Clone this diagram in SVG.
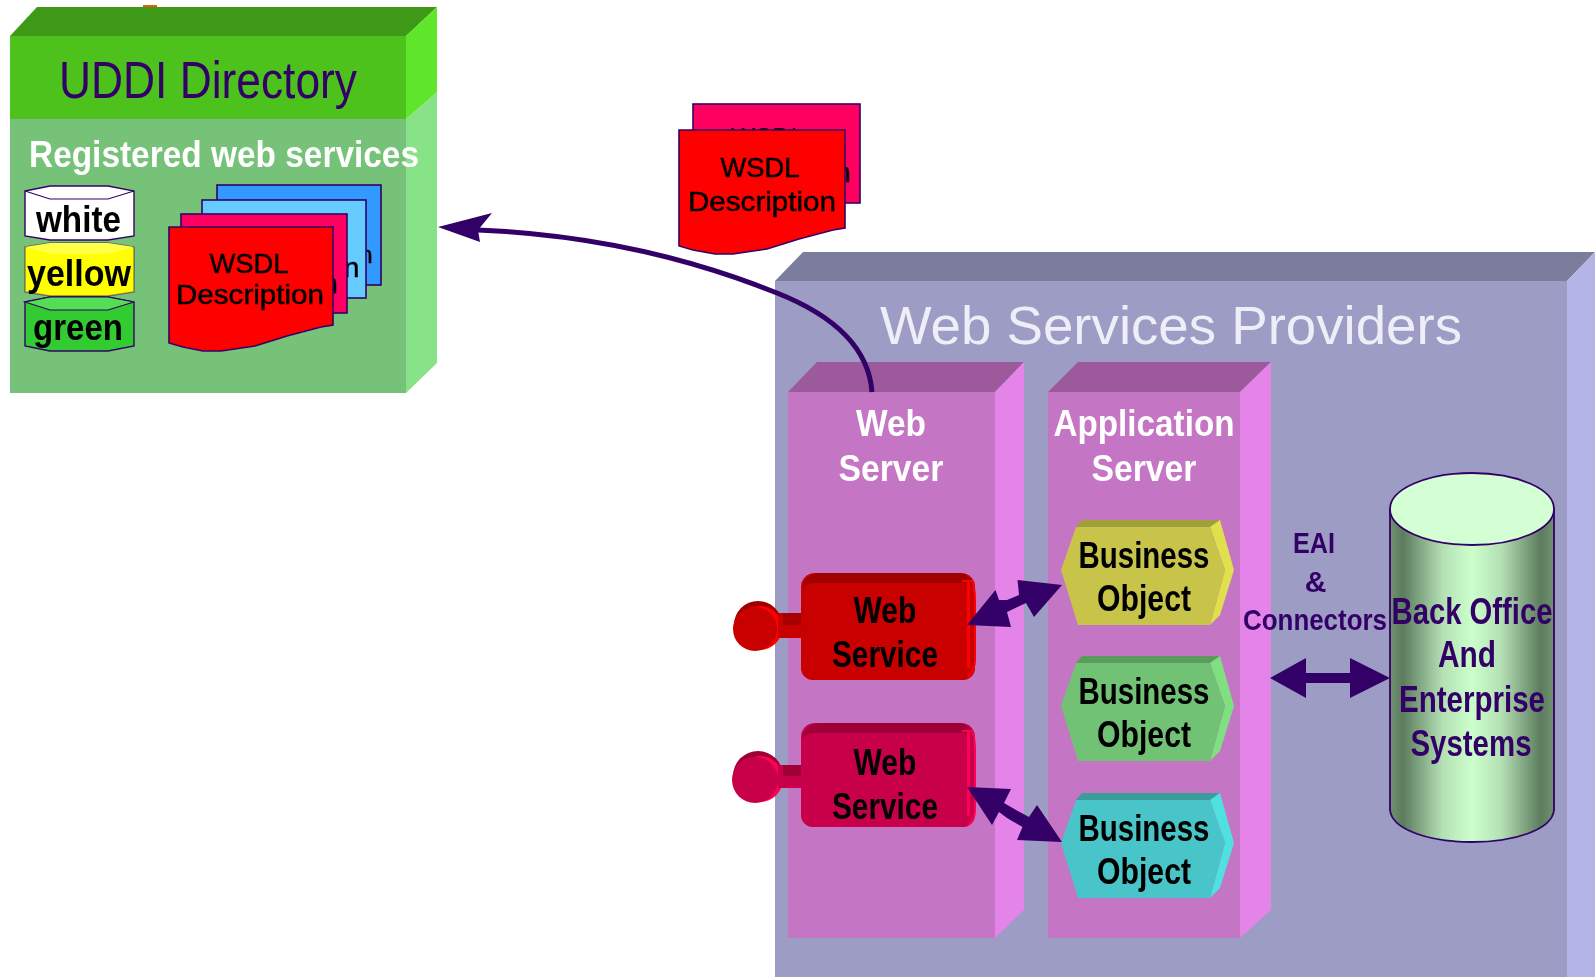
<svg xmlns="http://www.w3.org/2000/svg" width="1595" height="977" viewBox="0 0 1595 977">
<style>
text{font-family:"Liberation Sans",Arial,sans-serif;text-anchor:middle}
.b{font-weight:bold}
.k{fill:#000}
.d{fill:#000;stroke:#000;stroke-width:.5}
.p{fill:#330066}
.w{fill:#fff}
.doc{stroke:#330066;stroke-width:1.6}
.sc{stroke:#330066;stroke-width:1.4}
.conn{fill:#330066;stroke:none}
</style>
<defs>
<filter id="soft" filterUnits="userSpaceOnUse" x="0" y="0" width="1595" height="977"><feGaussianBlur stdDeviation="0.75"/></filter>
<linearGradient id="cyl" x1="0" x2="1" y1="0" y2="0">
<stop offset="0" stop-color="#6f9270"/><stop offset="0.08" stop-color="#5c7c5e"/><stop offset="0.32" stop-color="#b4e0b4"/><stop offset="0.5" stop-color="#ccffcc"/><stop offset="0.68" stop-color="#b4e0b4"/><stop offset="0.92" stop-color="#5c7c5e"/><stop offset="1" stop-color="#6f9270"/>
</linearGradient>
<path id="docshape" d="M0,0H164V98L152,100L118,109L86,119L52,124H34L14,120L0,116Z"/>
<path id="docshape2" d="M0,0H166V98L154,100L120,109L88,119L54,124H36L14,120L0,116Z"/>
</defs>
<g filter="url(#soft)">
<rect x="143" y="5" width="14" height="3" fill="#e06010"/>
<g id="uddi-directory">
<polygon points="10,36 37,7 437,7 406,36" fill="#3d9915"/>
<polygon points="406,119 437,92 437,363 406,393" fill="#88e288"/>
<polygon points="406,36 437,7 437,92 406,119" fill="#5ee52a"/>
<rect x="10" y="119" width="396" height="274" fill="#75c278"/>
<rect x="10" y="36" width="396" height="83" fill="#4dc21f"/>
<text x="208" y="98" font-size="52" class="p" textLength="298" lengthAdjust="spacingAndGlyphs">UDDI Directory</text>
<text x="224" y="167" font-size="37" class="b w" textLength="390" lengthAdjust="spacingAndGlyphs">Registered web services</text>
</g>
<g id="cat-white">
<path class="sc" fill="#fff" d="M25,191L50,186H108L134,191V236L108,240H50L25,236Z"/>
<path d="M25,191L50,199H108L134,191" fill="none" stroke="#330066" stroke-width="1.2"/>
<text x="78.500" y="232" font-size="36" class="b k" textLength="85" lengthAdjust="spacingAndGlyphs">white</text>
</g>
<g id="cat-yellow">
<path class="sc" fill="#ffff00" d="M25,247L50,243H108L134,247V292L108,296H50L25,292Z" stroke-opacity=".5"/>
<path d="M25,247L50,254H108L134,247L108,243H50Z" fill="#ffff44"/>
<text x="79" y="286" font-size="36" class="b k" textLength="104" lengthAdjust="spacingAndGlyphs">yellow</text>
</g>
<g id="cat-green">
<path class="sc" fill="#33cc33" d="M25,302L50,297H108L134,302V346L108,351H50L25,346Z"/>
<path d="M25,302L50,310H108L134,302L108,297H50Z" fill="#55dd55" stroke="#330066" stroke-width="1.2"/>
<text x="78" y="340" font-size="36" class="b k" textLength="90" lengthAdjust="spacingAndGlyphs">green</text>
</g>
<g id="registry-docs">
<rect class="doc" x="217" y="185" width="164" height="100" fill="#3399ff"/>
<text x="366" y="263" font-size="24" class="d">n</text>
<rect class="doc" x="202" y="200" width="164" height="98" fill="#66ccff"/>
<text x="351.500" y="277" font-size="28" class="d">n</text>
<rect class="doc" x="181" y="214" width="166" height="99" fill="#ff0060"/>
<text x="330" y="293" font-size="28" class="d">n</text>
<use href="#docshape" class="doc" x="169" y="227" fill="#ff0000"/>
<text x="249" y="273" font-size="28" class="d" textLength="79" lengthAdjust="spacingAndGlyphs">WSDL</text>
<text x="250" y="304" font-size="28" class="d" textLength="148" lengthAdjust="spacingAndGlyphs">Description</text>
</g>
<g id="loose-doc">
<rect class="doc" x="693" y="104" width="167" height="99" fill="#ff0060"/>
<text x="768" y="147" font-size="28" class="k" textLength="74" lengthAdjust="spacingAndGlyphs">WSDL</text>
<text x="843" y="182" font-size="28" class="d">n</text>
<use href="#docshape2" class="doc" x="679" y="130" fill="#ff0000"/>
<text x="760" y="177" font-size="28" class="d" textLength="79" lengthAdjust="spacingAndGlyphs">WSDL</text>
<text x="762" y="211" font-size="28" class="d" textLength="148" lengthAdjust="spacingAndGlyphs">Description</text>
</g>
<g id="web-services-providers">
<polygon points="775,281 803,252 1595,252 1567,281" fill="#7c7c9c"/>
<rect x="775" y="281" width="792" height="696" fill="#9c9cc4"/>
<polygon points="1567,281 1595,252 1595,977 1567,977" fill="#b4b4e6"/>
<text x="1171" y="344" font-size="53" fill="#eeeef8" textLength="582" lengthAdjust="spacingAndGlyphs">Web Services Providers</text>
</g>
<g id="web-server">
<polygon points="788,392 817,362 1024,362 995,392" fill="#9c5a9c"/>
<polygon points="995,392 1024,362 1024,910 995,938" fill="#e484e8"/>
<rect x="788" y="392" width="207" height="546" fill="#c474c4"/>
<text x="891" y="436" font-size="37" class="b w" textLength="70" lengthAdjust="spacingAndGlyphs">Web</text>
<text x="891" y="481" font-size="37" class="b w" textLength="105" lengthAdjust="spacingAndGlyphs">Server</text>
</g>
<g id="application-server">
<polygon points="1048,392 1078,362 1271,362 1240,392" fill="#9c5a9c"/>
<polygon points="1240,392 1271,362 1271,910 1240,938" fill="#e484e8"/>
<rect x="1048" y="392" width="192" height="546" fill="#c474c4"/>
<text x="1144" y="436" font-size="37" class="b w" textLength="181" lengthAdjust="spacingAndGlyphs">Application</text>
<text x="1144" y="481" font-size="37" class="b w" textLength="105" lengthAdjust="spacingAndGlyphs">Server</text>
</g>
<g id="web-service-1">
<circle cx="758" cy="625" r="24" fill="#a00000"/>
<circle cx="760" cy="628" r="22" fill="#ff0000"/>
<circle cx="755" cy="629" r="22" fill="#c80000"/>
<rect x="778" y="613" width="24" height="25" fill="#c80000"/>
<rect x="783" y="613" width="19" height="12" fill="#a80000"/>
<rect x="801" y="573" width="174" height="107" rx="14" fill="#c80000"/>
<path d="M803,588C803,578 812,573 820,573H958C966,573 972,578 974,588Z" fill="#a00000"/>
<rect x="801" y="583" width="174" height="97" rx="12" fill="#c80000"/>
<rect x="967" y="582" width="3" height="86" fill="#ff0000"/>
<path d="M962,581L972,581Q975,588 975,600V660Q975,670 968,677" fill="none" stroke="#ff0000" stroke-width="2"/>
<text x="885" y="623" font-size="36" class="b k" textLength="63" lengthAdjust="spacingAndGlyphs">Web</text>
<text x="885" y="667" font-size="36" class="b k" textLength="106" lengthAdjust="spacingAndGlyphs">Service</text>
</g>
<g id="web-service-2">
<circle cx="758" cy="776" r="25" fill="#a00038"/>
<circle cx="760" cy="779" r="23" fill="#ff0058"/>
<circle cx="755" cy="780" r="23" fill="#c80048"/>
<rect x="778" y="765" width="24" height="23" fill="#c80048"/>
<rect x="783" y="765" width="19" height="11" fill="#a00038"/>
<rect x="801" y="723" width="174" height="104" rx="14" fill="#c80048"/>
<path d="M803,738C803,728 812,723 820,723H958C966,723 972,728 974,738Z" fill="#a00038"/>
<rect x="801" y="733" width="174" height="94" rx="12" fill="#c80048"/>
<rect x="967" y="732" width="3" height="84" fill="#ff0058"/>
<path d="M962,731L972,731Q975,738 975,750V810Q975,820 968,825" fill="none" stroke="#ff0058" stroke-width="2"/>
<text x="885" y="775" font-size="36" class="b k" textLength="63" lengthAdjust="spacingAndGlyphs">Web</text>
<text x="885" y="819" font-size="36" class="b k" textLength="106" lengthAdjust="spacingAndGlyphs">Service</text>
</g>
<g id="business-object-1">
<polygon points="1076,527 1082,520 1220,520 1210,527" fill="#a0a03a"/>
<polygon points="1210,527 1220,520 1234,570 1220,615 1210,625 1225,570" fill="#e0e050"/>
<polygon points="1061,570 1076,527 1210,527 1225,570 1210,625 1078,625" fill="#c8c44a"/>
<text x="1144" y="568" font-size="36" class="b k" textLength="131" lengthAdjust="spacingAndGlyphs">Business</text>
<text x="1144" y="611" font-size="36" class="b k" textLength="94" lengthAdjust="spacingAndGlyphs">Object</text>
</g>
<g id="business-object-2" transform="translate(0,136)">
<polygon points="1076,527 1082,520 1220,520 1210,527" fill="#5a9c5c"/>
<polygon points="1210,527 1220,520 1234,570 1220,615 1210,625 1225,570" fill="#80e080"/>
<polygon points="1061,570 1076,527 1210,527 1225,570 1210,625 1078,625" fill="#72c274"/>
<text x="1144" y="568" font-size="36" class="b k" textLength="131" lengthAdjust="spacingAndGlyphs">Business</text>
<text x="1144" y="611" font-size="36" class="b k" textLength="94" lengthAdjust="spacingAndGlyphs">Object</text>
</g>
<g id="business-object-3" transform="translate(0,273)">
<polygon points="1076,527 1082,520 1220,520 1210,527" fill="#3a9c9c"/>
<polygon points="1210,527 1220,520 1234,570 1220,615 1210,625 1225,570" fill="#50e0e0"/>
<polygon points="1061,570 1076,527 1210,527 1225,570 1210,625 1078,625" fill="#48c4c8"/>
<text x="1144" y="568" font-size="36" class="b k" textLength="131" lengthAdjust="spacingAndGlyphs">Business</text>
<text x="1144" y="611" font-size="36" class="b k" textLength="94" lengthAdjust="spacingAndGlyphs">Object</text>
</g>
<g id="eai-label">
<text x="1314" y="553" font-size="30" class="b p" textLength="42" lengthAdjust="spacingAndGlyphs">EAI</text>
<text x="1315.500" y="592" font-size="30" class="b p">&amp;</text>
<text x="1315" y="630" font-size="30" class="b p" textLength="144" lengthAdjust="spacingAndGlyphs">Connectors</text>
</g>
<g id="back-office">
<path d="M1390,509V810C1392,830 1430,842 1472,842C1514,842 1552,830 1554,810V509Z" fill="url(#cyl)" stroke="#330066" stroke-width="1.8"/>
<ellipse cx="1472" cy="509" rx="82" ry="36" fill="#d4ffd4" stroke="#330066" stroke-width="1.8"/>
<text x="1472" y="624" font-size="36" class="b p" textLength="161" lengthAdjust="spacingAndGlyphs">Back Office</text>
<text x="1467" y="667" font-size="36" class="b p" textLength="58" lengthAdjust="spacingAndGlyphs">And</text>
<text x="1472" y="712" font-size="36" class="b p" textLength="146" lengthAdjust="spacingAndGlyphs">Enterprise</text>
<text x="1471" y="756" font-size="36" class="b p" textLength="121" lengthAdjust="spacingAndGlyphs">Systems</text>
</g>
<g id="connectors">
<path d="M872,392C868,340 820,310 777,293C700,262 600,235 478,230" fill="none" stroke="#330066" stroke-width="5"/>
<polygon class="conn" points="438,227 492,213 478,230 480,242"/>
<polygon class="conn" points="967,625 995.500,590 999,600 1007,600 1019,595 1017.500,580 1062,585 1034,617 1026,603 1017.500,607 1007,612 1011,627"/>
<polygon class="conn" points="967,787 1011,789 1004,803 1016,810 1029,817 1037,805 1062,842 1017,840 1022.500,827 1007,818 999,812 992,825"/>
<polygon class="conn" points="1270,678 1306,658 1306,673 1350,673 1350,658 1390,678 1350,698 1350,683 1306,683 1306,698"/>
</g>
</g>
</svg>
